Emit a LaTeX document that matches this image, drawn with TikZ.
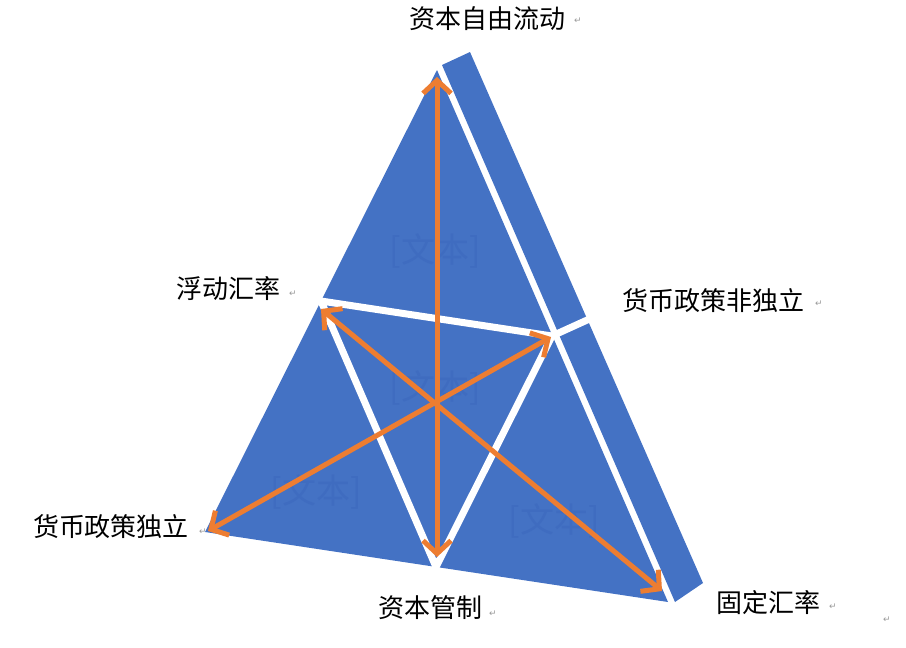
\documentclass[tikz,border=0pt]{standalone}
\usepackage{fontspec}
\newfontfamily\cjk{Noto Sans CJK SC}
\newfontfamily\dv{DejaVu Sans}
\usetikzlibrary{arrows.meta}
\definecolor{tblue}{HTML}{4472C4}
\definecolor{torange}{HTML}{ED7D31}
\definecolor{tfaint}{HTML}{3F6CC0}
\tikzset{
  piece/.style={fill=tblue, draw=none},
  gap/.style={white, line width=7pt},
  arr/.style={torange, line width=5pt, {Straight Barb[length=13pt,width=28pt]}-{Straight Barb[length=13pt,width=28pt]}},
  lbl/.style={font=\cjk\fontsize{26}{30}\selectfont, inner sep=0pt, text=black},
  ret/.style={font=\dv\fontsize{9}{10}\selectfont, text=gray!80, inner sep=0pt},
  faint/.style={font=\cjk\fontsize{34}{36}\selectfont, text=tfaint, inner sep=0pt}
}
\begin{document}
\begin{tikzpicture}[x=1pt,y=-1pt]
\useasboundingbox (0,0) rectangle (906,648);
% corners
\coordinate (A) at (437,70);
\coordinate (L) at (205,532);
\coordinate (R) at (668,602);
% main triangle
\fill[piece] (A) -- (L) -- (R) -- cycle;
% side bar
\fill[piece] (442,65) -- (470,52) -- (703,583) -- (675,602) -- cycle;
% white gaps
\coordinate (P) at (321,301);
\coordinate (Q) at (552,336);
\coordinate (S) at (436,567);
\draw[gap] (P) -- (Q) -- (S) -- cycle;
\draw[gap] (Q) -- (596,316);
% faint placeholder texts
\node[faint] (t1) at (435,251) {[文本]};
\node[faint] (t2) at (435,388) {[文本]};
\node[faint] (t3) at (316,492) {[文本]};
\node[faint] (t4) at (554,521) {[文本]};
% arrows
\coordinate (top) at (437,77);
\coordinate (bot) at (437,557);
\coordinate (ul) at (321,309);
\coordinate (lr) at (662,591);
\coordinate (ll) at (208,531);
\coordinate (ur) at (551,337);
\draw[arr] (top) -- (bot);
\draw[arr] (ul) -- (lr);
\draw[arr] (ll) -- (ur);
% labels
\node[lbl] (l1) at (487,19) {资本自由流动};
\node[lbl] (l2) at (228,289) {浮动汇率};
\node[lbl] (l3) at (713,301) {货币政策非独立};
\node[lbl] (l4) at (111,527) {货币政策独立};
\node[lbl] (l5) at (430,608) {资本管制};
\node[lbl] (l6) at (768,603) {固定汇率};
% paragraph marks
\node[ret] (r1) at (578,21) {↵};
\node[ret] (r2) at (293,294) {↵};
\node[ret] (r3) at (819,304) {↵};
\node[ret] (r4) at (203,532) {↵};
\node[ret] (r5) at (493,614) {↵};
\node[ret] (r6) at (833,607) {↵};
\node[ret] (r7) at (887,620) {↵};
\end{tikzpicture}
\end{document}
